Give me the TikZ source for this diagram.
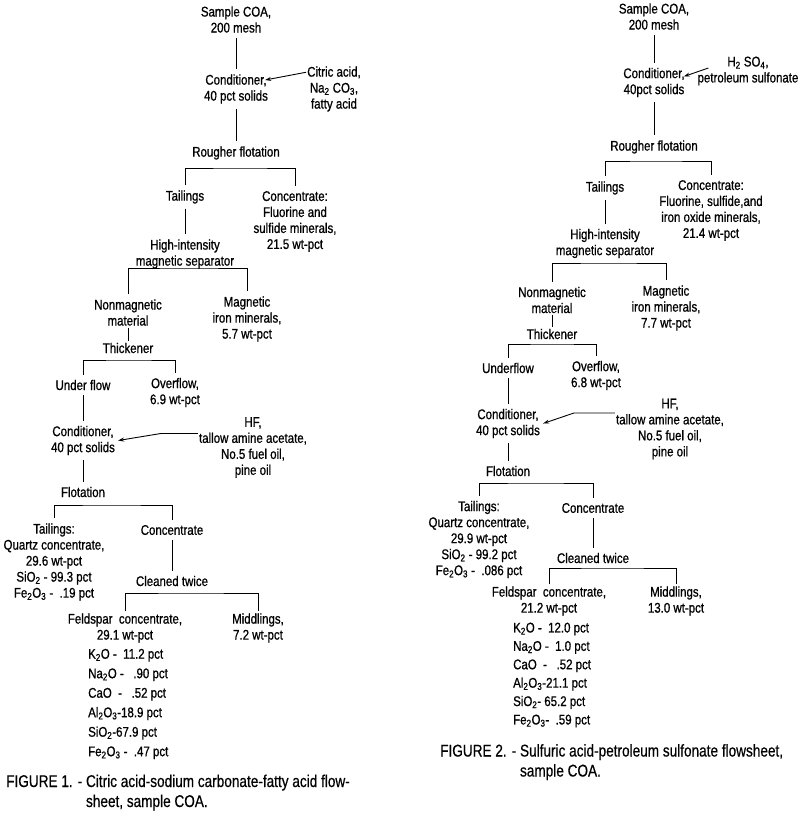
\documentclass[tikz,border=0pt]{standalone}
\usepackage{fontspec}
\setmainfont{Liberation Sans}[FakeStretch=0.82,FakeBold=0.8]
\newfontfamily\capfamily{Liberation Sans}[FakeStretch=0.8,FakeBold=0.5]
\usetikzlibrary{arrows.meta}
\newcommand{\sbs}[1]{\textsubscript{#1}}

\begin{document}
\begin{tikzpicture}[x=1pt,y=1pt,
  txt/.style={align=center,inner sep=1pt,font=\fontsize{14}{16}\selectfont},
  lst/.style={align=left,anchor=west,inner sep=1pt,font=\fontsize{14}{19.5}\selectfont},
  figcap/.style={anchor=west,inner sep=0pt,font=\capfamily\fontsize{17}{20}\selectfont},
  flow/.style={line width=0.9pt,shorten <=4pt,shorten >=4pt},
  feed/.style={line width=0.9pt,-{Stealth[length=6pt,width=4pt]}}]
\useasboundingbox (0,0) rectangle (800,-820);

% figure 1
\node[txt] (s1) at (236,-19.5) {Sample COA,\\200 mesh};
\node[txt] (c1) at (236,-89) {Conditioner,\\40 pct solids};
\node[txt] (r1) at (334,-89) {Citric acid,\\Na\sbs{2} CO\sbs{3},\\fatty acid};
\node[txt] (rf1) at (236,-153) {Rougher flotation};
\node[txt] (t1) at (185,-197) {Tailings};
\node[txt] (k1) at (295,-221.5) {Concentrate:\\Fluorine and\\sulfide minerals,\\21.5 wt-pct};
\node[txt] (h1) at (185,-254) {High-intensity\\magnetic separator};
\node[txt] (n1) at (128,-312.5) {Nonmagnetic\\material};
\node[txt] (m1) at (247,-319) {Magnetic\\iron minerals,\\5.7 wt-pct};
\node[txt] (th1) at (128,-348) {Thickener};
\node[txt] (u1) at (83,-385) {Under flow};
\node[txt] (o1) at (175,-392.5) {Overflow,\\6.9 wt-pct};
\node[txt] (c1b) at (83,-440.5) {Conditioner,\\40 pct solids};
\node[txt] (r1b) at (253,-447.5) {HF,\\tallow amine acetate,\\No.5 fuel oil,\\pine oil};
\node[txt] (f1) at (83,-492) {Flotation};
\node[txt] (q1) at (54,-562) {Tailings:\\Quartz concentrate,\\29.6 wt-pct\\SiO\sbs{2} - 99.3 pct\\Fe\sbs{2}O\sbs{3} - \ .19 pct};
\node[txt] (kc1) at (172,-530) {Concentrate};
\node[txt] (cl1) at (172,-581) {Cleaned twice};
\node[txt] (fs1) at (125,-628) {Feldspar \ concentrate,\\29.1 wt-pct};
\node[lst] (fa1) at (87,-704) {K\sbs{2}O - \ 11.2 pct\\Na\sbs{2}O - \ \ .90 pct\\CaO \ - \ \ .52 pct\\Al\sbs{2}O\sbs{3}-18.9 pct\\SiO\sbs{2}-67.9 pct\\Fe\sbs{2}O\sbs{3} - \ .47 pct};
\node[txt] (md1) at (258,-628) {Middlings,\\7.2 wt-pct};
\node[figcap] (cap1) at (6,-793) {\begin{tabular}{@{}l@{}l@{}}FIGURE 1. -\ \ & Citric acid-sodium carbonate-fatty acid flow-\\ & sheet, sample COA.\end{tabular}};

\coordinate (b1) at (240,-168);
\coordinate (b2) at (190,-268);
\coordinate (b3) at (128,-360);
\coordinate (b4) at (110,-505);
\coordinate (b5) at (190,-593);

\draw[flow] (s1) -- (c1);
\draw[flow] (c1) -- (rf1);
\draw[flow] (t1) -- (h1);
\draw[flow,shorten <=1pt,shorten >=1pt] (n1) -- (th1);
\draw[flow] (u1) -- (c1b);
\draw[flow] (c1b) -- (f1);
\draw[flow] (kc1) -- (cl1);
\draw[flow] (t1.north) |- (b1) -| (k1.north);
\draw[flow] (n1.north) |- (b2) -| (m1.north);
\draw[flow] (u1.north) |- (b3) -| (o1.north);
\draw[flow] (q1.north) |- (b4) -| (kc1.north);
\draw[flow,shorten <=1pt,shorten >=1pt] (fs1.north) |- (b5) -| (md1.north);
\draw[feed] ([yshift=-7pt]r1.north west) -- ([shift={(-4pt,9pt)}]c1.east);
\draw[feed] ([yshift=14pt]r1b.west) -- ++(-37,0) -- ([xshift=2pt]c1b.east);

% figure 2
\node[txt] (s2) at (654,-16.5) {Sample COA,\\200 mesh};
\node[txt] (c2) at (654,-82.5) {Conditioner,\\40pct solids};
\node[txt] (r2) at (748,-71) {H\sbs{2} SO\sbs{4},\\petroleum sulfonate};
\node[txt] (rf2) at (654,-147) {Rougher flotation};
\node[txt] (t2) at (605,-188) {Tailings};
\node[txt] (k2) at (711,-210.5) {Concentrate:\\Fluorine, sulfide,and\\iron oxide minerals,\\21.4 wt-pct};
\node[txt] (h2) at (605,-243.5) {High-intensity\\magnetic separator};
\node[txt] (n2) at (552,-300) {Nonmagnetic\\material};
\node[txt] (m2) at (666,-308) {Magnetic\\iron minerals,\\7.7 wt-pct};
\node[txt] (th2) at (552,-334) {Thickener};
\node[txt] (u2) at (508,-368) {Underflow};
\node[txt] (o2) at (596,-375.5) {Overflow,\\6.8 wt-pct};
\node[txt] (c2b) at (508,-423.5) {Conditioner,\\40 pct solids};
\node[txt] (r2b) at (670,-429) {HF,\\tallow amine acetate,\\No.5 fuel oil,\\pine oil};
\node[txt] (f2) at (508,-471) {Flotation};
\node[txt] (q2) at (479,-539.5) {Tailings:\\Quartz concentrate,\\29.9 wt-pct\\SiO\sbs{2} - 99.2 pct\\Fe\sbs{2}O\sbs{3} - \ .086 pct};
\node[txt] (kc2) at (593,-508) {Concentrate};
\node[txt] (cl2) at (593,-558) {Cleaned twice};
\node[txt] (fs2) at (549,-601) {Feldspar \ concentrate,\\21.2 wt-pct};
\node[lst,font=\fontsize{14}{18.4}\selectfont] (fa2) at (512,-675) {K\sbs{2}O - \ 12.0 pct\\Na\sbs{2}O - \ 1.0 pct\\CaO \ - \ \ .52 pct\\Al\sbs{2}O\sbs{3}-21.1 pct\\SiO\sbs{2}- 65.2 pct\\Fe\sbs{2}O\sbs{3}- \ .59 pct};
\node[txt] (md2) at (676,-601) {Middlings,\\13.0 wt-pct};
\node[figcap] (cap2) at (440,-762.5) {\begin{tabular}{@{}l@{}l@{}}FIGURE 2. -\ \ & Sulfuric acid-petroleum sulfonate flowsheet,\\ & sample COA.\end{tabular}};

\coordinate (b6) at (654,-161);
\coordinate (b7) at (608,-263);
\coordinate (b8) at (552,-344);
\coordinate (b9) at (535,-483);
\coordinate (b10) at (612,-568);

\draw[flow] (s2) -- (c2);
\draw[flow] (c2) -- (rf2);
\draw[flow] (t2) -- (h2);
\draw[flow,shorten <=1pt,shorten >=1pt] (n2) -- (th2);
\draw[flow] (u2) -- (c2b);
\draw[flow] (c2b) -- (f2);
\draw[flow] (kc2) -- (cl2);
\draw[flow] (t2.north) |- (b6) -| (k2.north);
\draw[flow] (n2.north) |- (b7) -| (m2.north);
\draw[flow] (u2.north) |- (b8) -| (o2.north);
\draw[flow] (q2.north) |- (b9) -| (kc2.north);
\draw[flow,shorten <=1pt,shorten >=1pt] (fs2.north) |- (b10) -| (md2.north);
\draw[feed] ([shift={(12pt,3pt)}]r2.west) -- ([shift={(-2pt,6pt)}]c2.east);
\draw[feed] ([yshift=16pt]r2b.west) -- ++(-41,0) -- ([xshift=2pt]c2b.east);
\end{tikzpicture}
\end{document}
